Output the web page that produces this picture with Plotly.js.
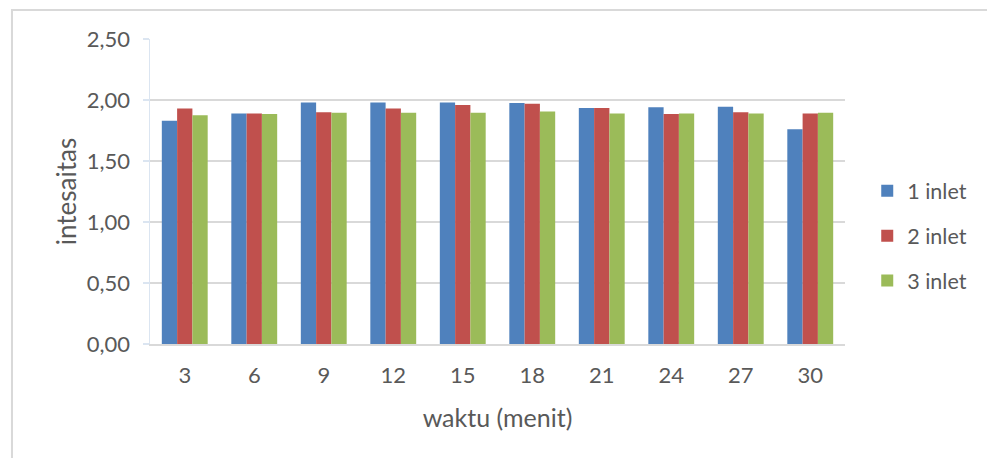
<!DOCTYPE html>
<html>
<head>
<meta charset="utf-8">
<script src="https://cdn.plot.ly/plotly-3.0.1.min.js"></script>
<style>
  html, body { margin: 0; padding: 0; background: #ffffff; }
  #chart { width: 987px; height: 458px; }
</style>
</head>
<body>
<div id="chart"></div>
<script>
// Sampling times (minutes)
const waktu = ['3', '6', '9', '12', '15', '18', '21', '24', '27', '30'];

// Intensity per number of inlets
const inlet1 = [1.83, 1.89, 1.98, 1.98, 1.98, 1.975, 1.935, 1.94, 1.945, 1.76];
const inlet2 = [1.93, 1.89, 1.90, 1.93, 1.96, 1.97, 1.935, 1.885, 1.90, 1.89];
const inlet3 = [1.875, 1.885, 1.895, 1.895, 1.895, 1.905, 1.89, 1.89, 1.89, 1.895];

const seriesNames = ['1 inlet', '2 inlet', '3 inlet'];
const seriesColors = ['#4f81bd', '#c0504d', '#9bbb59'];

const textColor = '#595959';
const fontFamily = 'Lato, "Open Sans", sans-serif';

const traces = [inlet1, inlet2, inlet3].map((vals, i) => ({
  type: 'bar',
  x: waktu,
  y: vals,
  name: seriesNames[i],
  legendgroup: 'g' + i,
  marker: { color: seriesColors[i] },
  hoverinfo: 'x+y+name'
}));

const layout = {
  width: 987,
  height: 458,
  margin: { l: 150, r: 142, t: 39, b: 114, pad: 0 },
  paper_bgcolor: '#ffffff',
  plot_bgcolor: '#ffffff',
  separators: ',.',
  font: { family: fontFamily, size: 22, color: textColor },
  barmode: 'group',
  bargap: 0.34,
  bargroupgap: 0,
  showlegend: true,
  legend: {
    x: 1.032,
    xanchor: 'left',
    y: 0.355,
    yanchor: 'middle',
    tracegroupgap: 14,
    font: { family: fontFamily, size: 21.5, color: textColor },
    bgcolor: 'rgba(0,0,0,0)'
  },
  xaxis: {
    type: 'category',
    showgrid: false,
    showline: true,
    linecolor: '#d9d9d9',
    linewidth: 1.5,
    ticks: '',
    ticklabelstandoff: 11,
    tickfont: { family: fontFamily, size: 22, color: textColor },
    title: {
      text: 'waktu (menit)',
      font: { family: fontFamily, size: 25, color: textColor },
      standoff: 22
    },
    fixedrange: true
  },
  yaxis: {
    range: [0, 2.5],
    dtick: 0.5,
    tick0: 0,
    tickformat: '.2f',
    showgrid: true,
    gridcolor: '#d9d9d9',
    gridwidth: 1.5,
    zeroline: false,
    showline: true,
    linecolor: '#dbe5f1',
    linewidth: 1.5,
    ticks: 'outside',
    ticklen: 6,
    tickcolor: '#dbe5f1',
    tickwidth: 1.5,
    ticklabelstandoff: 8,
    tickfont: { family: fontFamily, size: 22, color: textColor },
    title: {
      text: 'intesaitas',
      font: { family: fontFamily, size: 26, color: textColor },
      standoff: 2
    },
    fixedrange: true
  },
  shapes: [{
    type: 'rect',
    xref: 'paper',
    yref: 'paper',
    x0: -0.1986,
    x1: 1.25,
    y0: -0.5,
    y1: 1.095,
    line: { color: '#d9d9d9', width: 2 },
    fillcolor: 'rgba(0,0,0,0)',
    layer: 'below'
  }]
};

Plotly.newPlot('chart', traces, layout, { displayModeBar: false, staticPlot: true });
</script>
</body>
</html>
